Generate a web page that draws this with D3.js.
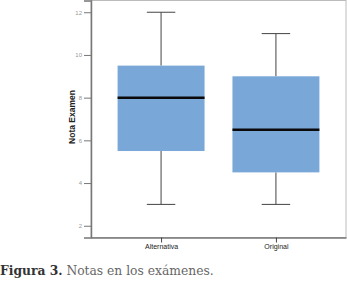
<!DOCTYPE html>
<html>
<head>
<meta charset="utf-8">
<script src="https://cdn.jsdelivr.net/npm/d3@7"></script>
<style>
  body { margin: 0; background: #fff; }
  svg { display: block; }
</style>
</head>
<body>
<svg id="chart" width="347" height="282"></svg>
<script>
// Data
const categories = ["Alternativa", "Original"];
const mins = [3, 3];
const q1s = [5.5, 4.5];
const medians = [8, 6.5];
const q3s = [9.5, 9];
const maxs = [12, 11];
const yTicks = [2, 4, 6, 8, 10, 12];

const boxes = categories.map((c, i) => ({
    name: c, min: mins[i], q1: q1s[i], median: medians[i], q3: q3s[i], max: maxs[i]
}));

const svg = d3.select("#chart");
const frame = { left: 91, right: 346, top: 0.5, bottom: 237.5 };

const x = d3.scalePoint()
    .domain(categories)
    .range([frame.left, frame.right])
    .padding(0.61);
const step = x.step();
const boxW = step * 0.757;
const capW = step * 0.248;

const y = d3.scaleLinear()
    .domain([1.45, 12.55])
    .range([frame.bottom, frame.top]);

// frame: light top/right, darker left/bottom
svg.append("rect")
    .attr("x", frame.left).attr("y", frame.top)
    .attr("width", frame.right - frame.left).attr("height", frame.bottom - frame.top)
    .attr("fill", "none").attr("stroke", "#bbb").attr("stroke-width", 1);

// y axis
const yAxis = svg.append("g")
    .attr("transform", `translate(${frame.left},0)`)
    .call(d3.axisLeft(y).tickValues(yTicks).tickSize(7).tickPadding(2));
yAxis.select(".domain").attr("stroke", "#777").attr("stroke-width", 1.5);
yAxis.selectAll(".tick line").attr("stroke", "#777");
yAxis.selectAll(".tick text")
    .attr("fill", "#999").style("font", "6px 'Liberation Sans', Arial, sans-serif");

// x axis
const xAxis = svg.append("g")
    .attr("transform", `translate(0,${frame.bottom})`)
    .call(d3.axisBottom(x).tickSize(5).tickSizeOuter(0).tickPadding(2));
xAxis.select(".domain").attr("stroke", "#777").attr("stroke-width", 1.5);
xAxis.selectAll(".tick line").attr("stroke", "#444");
xAxis.selectAll(".tick text")
    .attr("fill", "#222").style("font", "7px 'Liberation Sans', Arial, sans-serif");

// y label
svg.append("text")
    .attr("transform", `translate(75,117) rotate(-90)`)
    .attr("text-anchor", "middle")
    .style("font", "bold 8.5px 'Liberation Sans', Arial, sans-serif")
    .attr("fill", "#222")
    .text("Nota Examen");

// boxes
const g = svg.append("g").selectAll("g").data(boxes).join("g");

g.append("line")
    .attr("x1", d => x(d.name)).attr("x2", d => x(d.name))
    .attr("y1", d => y(d.max)).attr("y2", d => y(d.q3))
    .attr("stroke", "#444").attr("stroke-width", 1);
g.append("line")
    .attr("x1", d => x(d.name)).attr("x2", d => x(d.name))
    .attr("y1", d => y(d.q1)).attr("y2", d => y(d.min))
    .attr("stroke", "#444").attr("stroke-width", 1);
g.selectAll(".cap").data(d => [d, d].map((v, k) => ({ name: d.name, v: k ? d.min : d.max })))
    .join("line").attr("class", "cap")
    .attr("x1", d => x(d.name) - capW / 2).attr("x2", d => x(d.name) + capW / 2)
    .attr("y1", d => y(d.v)).attr("y2", d => y(d.v))
    .attr("stroke", "#444").attr("stroke-width", 1);

g.append("rect")
    .attr("x", d => x(d.name) - boxW / 2)
    .attr("width", boxW)
    .attr("y", d => y(d.q3))
    .attr("height", d => y(d.q1) - y(d.q3))
    .attr("fill", "#79a7d7");
g.append("line")
    .attr("x1", d => x(d.name) - boxW / 2).attr("x2", d => x(d.name) + boxW / 2)
    .attr("y1", d => y(d.median)).attr("y2", d => y(d.median))
    .attr("stroke", "#0a0a0a").attr("stroke-width", 2.5);

// caption
const cap = svg.append("text")
    .attr("x", 0).attr("y", 275)
    .style("font", "12.3px 'DejaVu Serif', serif");
cap.append("tspan").attr("font-weight", "bold").attr("fill", "#333").text("Figura 3.");
cap.append("tspan").attr("fill", "#666").text(" Notas en los exámenes.");
</script>
</body>
</html>
